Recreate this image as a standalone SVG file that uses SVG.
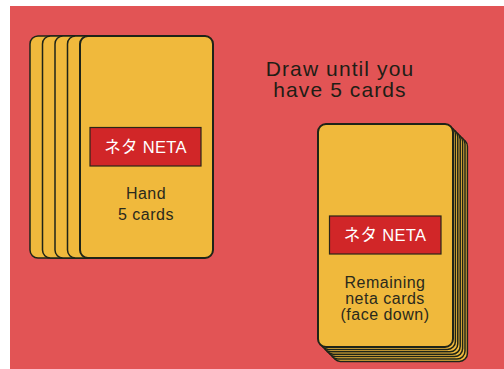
<svg xmlns="http://www.w3.org/2000/svg" width="504" height="369" viewBox="0 0 504 369">
<style>
.card{fill:#f0b93c;stroke:#1e2418;stroke-width:1.5}
.front{fill:#f0b93c;stroke:#1e2418;stroke-width:2}
.lab{fill:#d12628;stroke:#2a2418;stroke-width:1.2}
.lt{font-family:"Liberation Sans","Noto Sans CJK JP",sans-serif;font-size:16.5px;fill:#ffffff;text-anchor:middle;letter-spacing:0.3px}
.t{font-family:"Liberation Sans",Arial,sans-serif;font-size:16px;fill:#2a2a1c;text-anchor:middle;letter-spacing:0.5px}
.title{font-family:"Liberation Sans",Arial,sans-serif;font-size:21px;fill:#1e1e16;text-anchor:middle;letter-spacing:1.1px}
</style>
<rect x="0" y="0" width="504" height="369" fill="#ffffff"/>
<rect x="10" y="6" width="494" height="363" fill="#e25455"/>
<g id="hand">
<rect class="card" x="30" y="36" width="133" height="222" rx="8"/>
<rect class="card" x="42.5" y="36" width="133" height="222" rx="8"/>
<rect class="card" x="55" y="36" width="133" height="222" rx="8"/>
<rect class="card" x="67.5" y="36" width="133" height="222" rx="8"/>
<rect class="front" x="80" y="36" width="133" height="222" rx="8"/>
<rect class="lab" x="90" y="127.5" width="111" height="38.5"/>
<text class="lt" x="145.5" y="152.5">ネタ NETA</text>
<text class="t" x="146" y="199">Hand</text>
<text class="t" x="146" y="220">5 cards</text>
</g>
<g id="deck">
<rect class="card" x="332.4" y="138.4" width="135" height="223" rx="8"/>
<rect class="card" x="330" y="136" width="135" height="223" rx="8"/>
<rect class="card" x="327.6" y="133.6" width="135" height="223" rx="8"/>
<rect class="card" x="325.2" y="131.2" width="135" height="223" rx="8"/>
<rect class="card" x="322.8" y="128.8" width="135" height="223" rx="8"/>
<rect class="card" x="320.4" y="126.4" width="135" height="223" rx="8"/>
<rect class="front" x="318" y="124" width="135" height="223" rx="8"/>
<rect class="lab" x="329.5" y="216" width="111.5" height="38"/>
<text class="lt" x="385" y="241">ネタ NETA</text>
<text class="t" x="385" y="288">Remaining</text>
<text class="t" x="385" y="304">neta cards</text>
<text class="t" x="385" y="320">(face down)</text>
</g>
<g id="title">
<text class="title" x="340" y="76">Draw until you</text>
<text class="title" x="340" y="97">have 5 cards</text>
</g>
<g id="connectors"/>
</svg>
